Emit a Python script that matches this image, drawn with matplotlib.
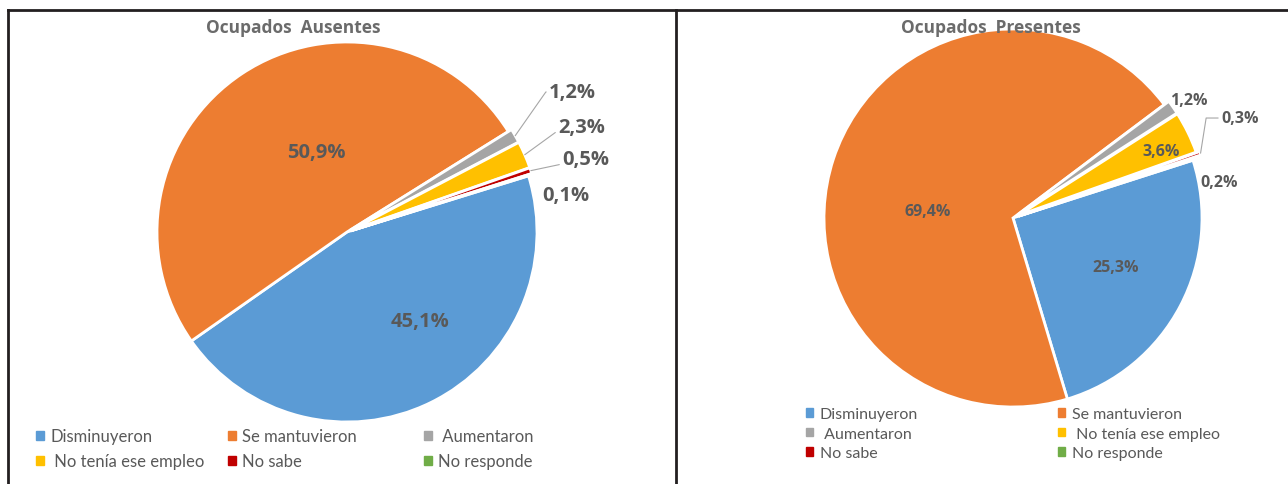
import matplotlib.pyplot as plt
from matplotlib.patches import Patch
from matplotlib.lines import Line2D
import numpy as np

plt.rcParams['font.family'] = ['Lato', 'DejaVu Sans']
NEGRITA = ['Open Sans', 'DejaVu Sans']

# Datos
categorias = ['Disminuyeron', 'Se mantuvieron', ' Aumentaron',
              ' No tenía ese empleo', 'No sabe', 'No responde']
colores = ['#5B9BD5', '#ED7D31', '#A5A5A5', '#FFC000', '#C00000', '#70AD47']

ausentes = [45.1, 50.9, 1.2, 2.3, 0.5, 0.1]
presentes = [25.3, 69.4, 1.2, 3.6, 0.3, 0.2]

titulo_aus = 'Ocupados  Ausentes'
titulo_pre = 'Ocupados  Presentes'

# Layout (pixeles de la figura)
W, H = 1288, 485
GRIS = '#595959'

fig = plt.figure(figsize=(W / 100, H / 100), dpi=100)


def fmt(v):
    return f'{v:.1f}'.replace('.', ',') + '%'


def torta(cx, cy, r, valores, inicio, explode, pos, ha, guias, fsize):
    ax = fig.add_axes([(cx - r) / W, (H - cy - r) / H, 2 * r / W, 2 * r / H])
    wedges, _ = ax.pie(valores, colors=colores, startangle=inicio,
                       counterclock=False, explode=explode,
                       wedgeprops=dict(edgecolor='white', linewidth=2))
    ax.set_xlim(-1, 1)
    ax.set_ylim(-1, 1)
    ax.set_aspect('equal')
    ax.axis('off')
    for i, w in enumerate(wedges):
        txt = fmt(valores[i])
        if guias[i] is None:
            ax.text(pos[i][0], pos[i][1], txt, ha=ha[i], va='center',
                    fontsize=fsize, fontweight='bold', color=GRIS,
                    family=NEGRITA)
            continue
        ang = np.deg2rad((w.theta1 + w.theta2) / 2)
        rr = w.r + np.hypot(*w.center)
        tip = (rr * np.cos(ang), rr * np.sin(ang))
        if guias[i] == 'recta':
            cs = 'arc3'
        else:
            cs = f'angle,angleA=0,angleB={guias[i]},rad=0'
        ax.annotate(txt, xy=tip, xytext=pos[i], ha=ha[i], va='center',
                    fontsize=fsize, fontweight='bold', color=GRIS,
                    family=NEGRITA,
                    arrowprops=dict(arrowstyle='-', color='#a6a6a6', lw=0.8,
                                    shrinkA=0, shrinkB=0,
                                    connectionstyle=cs))
    return ax


# Ocupados Ausentes
torta(347, 233, 190, ausentes, 17.2, [0, 0, 0.02, 0.02, 0.02, 0.02],
      [(0.384, -0.468), (-0.163, 0.421), (1.063, 0.737), (1.111, 0.553),
       (1.132, 0.384), (1.026, 0.195)],
      ['center', 'center', 'left', 'left', 'left', 'left'],
      [None, None, 55, 36, 'recta', None], 14.5)

# Ocupados Presentes
torta(1013, 219, 189, presentes, 17.8, [0, 0, 0.03, 0.03, 0.05, 0.03],
      [(0.545, -0.259), (-0.45, 0.037), (0.831, 0.624), (0.783, 0.354),
       (1.10, 0.529), (0.989, 0.190)],
      ['center', 'center', 'left', 'center', 'left', 'left'],
      [None, None, None, None, 81, None], 11.5)

fig.text(293 / W, 1 - 28 / H, titulo_aus, ha='center', va='center',
         fontsize=12.5, fontweight='bold', color='#6b6b6b', family=NEGRITA)
fig.text(991 / W, 1 - 28 / H, titulo_pre, ha='center', va='center',
         fontsize=12.5, fontweight='bold', color='#6b6b6b', family=NEGRITA)


# Leyendas, una por columna
def leyenda(cols_x, y_top, ncol, fsize, sep):
    handles = [Patch(color=c) for c in colores]
    for j, x in enumerate(cols_x):
        fig.legend(handles[j::ncol], categorias[j::ncol], loc='upper left',
                   bbox_to_anchor=(x / W, 1 - y_top / H), frameon=False,
                   fontsize=fsize, handlelength=0.45, handleheight=0.45,
                   handletextpad=0.4, labelspacing=sep, borderpad=0,
                   borderaxespad=0, labelcolor=GRIS)


leyenda([36, 228, 424], 429, 3, 12, 0.54)
leyenda([806, 1058], 408, 2, 11.5, 0.35)

# Bordes
kw = dict(transform=fig.transFigure, color='#231f20', lw=2)
fig.add_artist(Line2D([8 / W, 1], [1 - 11 / H, 1 - 11 / H], **kw))
fig.add_artist(Line2D([8 / W, 8 / W], [0, 1 - 11 / H], **kw))
fig.add_artist(Line2D([676 / W, 676 / W], [0, 1 - 11 / H], **kw))

fig.savefig('out.png', dpi=100)
